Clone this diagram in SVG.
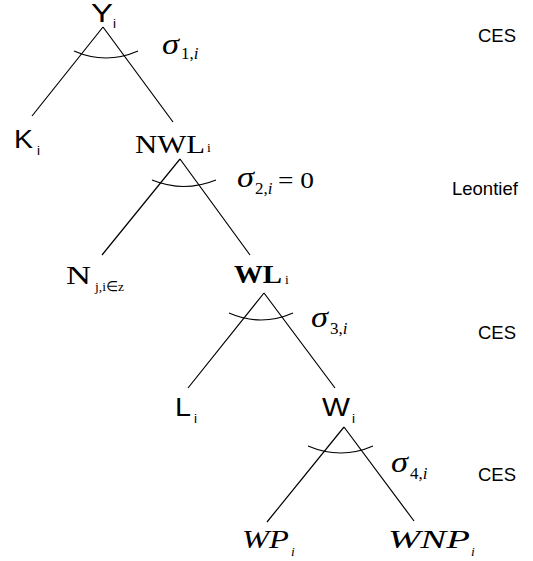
<svg xmlns="http://www.w3.org/2000/svg" width="533" height="561" viewBox="0 0 533 561">
<style>
.ln{stroke:#000;stroke-width:1.2;fill:none}
.sans{font-family:"Liberation Sans",Arial,sans-serif;fill:#000}
.serif{font-family:"Liberation Serif","Times New Roman",serif;fill:#000}
.it{font-style:italic}
.big{font-size:25px}
.sub{font-size:13.5px}
.lab{font-size:18.5px}
.sig{font-size:29px}
.ssub{font-size:17px}
</style>
<rect width="533" height="561" fill="#fff"/>
<g id="connectors">
<path class="ln" d="M103,27 L32,116 M103,27 L173,122"/>
<path class="ln" d="M74,51 Q106,65 138,51"/>
<path class="ln" d="M180,159 L102,255 M180,159 L250,255"/>
<path class="ln" d="M152,180 Q184,193 216,180"/>
<path class="ln" d="M264,293 L188,388 M264,293 L335,388"/>
<path class="ln" d="M229,313 Q261,327 293,313"/>
<path class="ln" d="M344,427 L267,522 M344,427 L414,521"/>
<path class="ln" d="M308,446 Q341,460 373,446"/>
</g>
<g id="node-Y"><text class="sans big" x="91" y="22" textLength="22" lengthAdjust="spacingAndGlyphs">Y</text><text class="sans sub" x="113" y="28">i</text></g>
<g id="node-K"><text class="sans big" x="14" y="148" textLength="19" lengthAdjust="spacingAndGlyphs">K</text><text class="sans sub" x="37" y="155">i</text></g>
<g id="node-NWL"><text class="serif" font-size="26" x="135" y="153" textLength="70" lengthAdjust="spacingAndGlyphs">NWL</text><text class="serif sub" x="207" y="152">i</text></g>
<g id="node-N"><text class="serif" font-size="26" x="66" y="284" textLength="25" lengthAdjust="spacingAndGlyphs">N</text><text class="serif sub" x="95" y="291">j,i∈z</text></g>
<g id="node-WL"><text class="serif" font-size="26" font-weight="bold" x="234" y="283" textLength="48" lengthAdjust="spacingAndGlyphs">WL</text><text class="serif sub" x="285" y="284">i</text></g>
<g id="node-L"><text class="sans big" x="175" y="416" textLength="16" lengthAdjust="spacingAndGlyphs">L</text><text class="sans sub" x="194" y="423">i</text></g>
<g id="node-W"><text class="sans big" x="322" y="416" textLength="28" lengthAdjust="spacingAndGlyphs">W</text><text class="sans sub" x="352" y="423">i</text></g>
<g id="node-WP"><text class="serif it" font-size="26" x="242" y="548" textLength="47" lengthAdjust="spacingAndGlyphs">WP</text><text class="serif it sub" x="291" y="556">i</text></g>
<g id="node-WNP"><text class="serif it" font-size="26" x="388" y="548" textLength="82" lengthAdjust="spacingAndGlyphs">WNP</text><text class="serif it sub" x="471" y="556">i</text></g>
<g id="sigma1"><text class="serif it sig" x="162" y="54" textLength="17" lengthAdjust="spacingAndGlyphs">σ</text><text class="serif ssub" x="181" y="59">1,<tspan class="it">i</tspan></text></g>
<g id="sigma2"><text class="serif it sig" x="237" y="187" textLength="17" lengthAdjust="spacingAndGlyphs">σ</text><text class="serif ssub" x="255" y="194">2,<tspan class="it">i</tspan></text><text class="serif" font-size="23" x="278" y="188" textLength="36" lengthAdjust="spacingAndGlyphs">= 0</text></g>
<g id="sigma3"><text class="serif it sig" x="311" y="327" textLength="17" lengthAdjust="spacingAndGlyphs">σ</text><text class="serif ssub" x="330" y="334">3,<tspan class="it">i</tspan></text></g>
<g id="sigma4"><text class="serif it sig" x="391" y="472" textLength="17" lengthAdjust="spacingAndGlyphs">σ</text><text class="serif ssub" x="410" y="479">4,<tspan class="it">i</tspan></text></g>
<g id="labels">
<text class="sans lab" x="478" y="42">CES</text>
<text class="sans lab" x="452" y="195">Leontief</text>
<text class="sans lab" x="478" y="339">CES</text>
<text class="sans lab" x="478" y="481">CES</text>
</g>
</svg>
